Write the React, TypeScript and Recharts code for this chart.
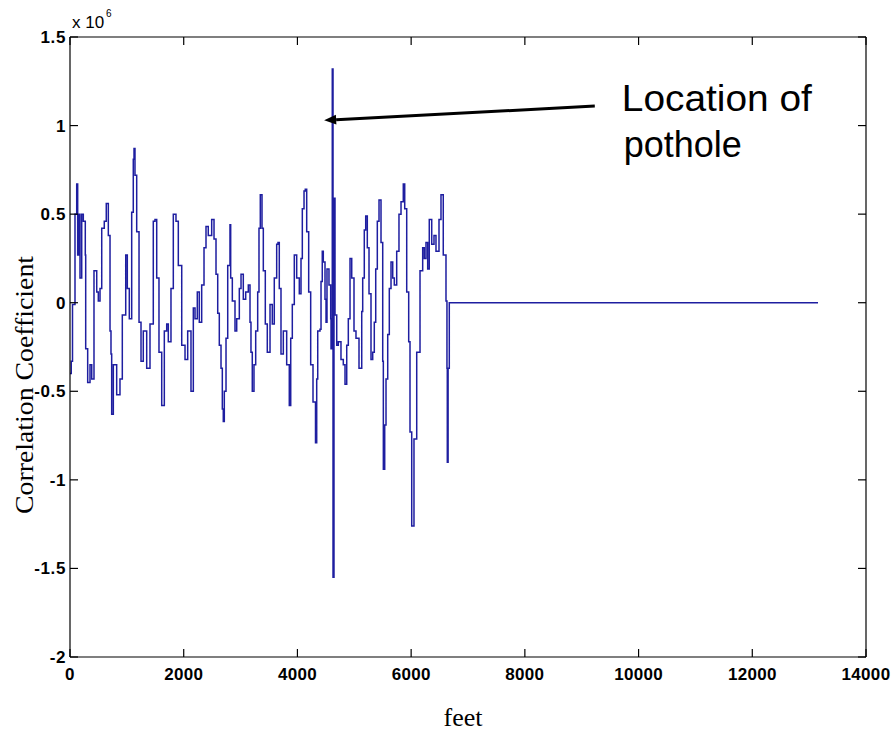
import React from "react";
import { LineChart, Line, XAxis, YAxis, ReferenceLine } from "recharts";

// distance along the road (feet)
const feet = [
  0, 22, 44, 88, 118, 135, 158, 176, 206, 234, 269, 276, 311, 352, 382, 422, 470, 498, 528, 558,
  603, 638, 674, 704, 721, 733, 762, 821, 879, 920, 980, 1008, 1043, 1085, 1113, 1126, 1143, 1173, 1214, 1249,
  1289, 1349, 1407, 1465, 1495, 1525, 1565, 1613, 1659, 1701, 1729, 1776, 1817, 1864, 1905, 1965, 2023, 2070, 2128, 2169,
  2199, 2239, 2274, 2316, 2357, 2392, 2432, 2492, 2533, 2568, 2598, 2626, 2656, 2679, 2696, 2714, 2744, 2774, 2814, 2826,
  2855, 2902, 2932, 2978, 3008, 3048, 3090, 3136, 3166, 3183, 3206, 3236, 3266, 3301, 3324, 3347, 3377, 3400, 3435, 3470,
  3518, 3558, 3593, 3635, 3658, 3681, 3711, 3752, 3811, 3857, 3882, 3910, 3945, 3987, 4033, 4063, 4086, 4116, 4138, 4163,
  4198, 4233, 4274, 4318, 4339, 4357, 4397, 4415, 4437, 4455, 4485, 4503, 4520, 4555, 4585, 4591, 4613, 4626, 4643, 4661,
  4691, 4719, 4766, 4807, 4837, 4867, 4895, 4925, 4955, 4995, 5030, 5083, 5131, 5148, 5176, 5201, 5229, 5259, 5294, 5324,
  5352, 5377, 5405, 5435, 5470, 5500, 5511, 5535, 5558, 5588, 5616, 5646, 5676, 5704, 5746, 5786, 5822, 5862, 5887, 5922,
  5957, 5980, 6010, 6050, 6098, 6156, 6203, 6231, 6261, 6291, 6319, 6362, 6402, 6437, 6490, 6525, 6565, 6613, 6630, 6636,
  6650, 6671, 13156,
];

// correlation coefficient, in units of 10^6
const coeff = [
  -0.4, -0.33, -0.01, 0.5, 0.67, 0.27, 0.5, 0.14, 0.5, 0.46, 0.27, -0.26, -0.45, -0.35, -0.43, 0.18, 0.06, 0.01, 0.08, 0.42,
  0.46, 0.56, 0.38, -0.16, -0.29, -0.63, -0.35, -0.52, -0.43, -0.07, 0.27, 0.08, -0.09, 0.51, 0.81, 0.87, 0.72, 0.4, -0.11, -0.33,
  -0.16, -0.37, -0.12, 0.46, 0.47, 0.14, -0.28, -0.58, -0.16, -0.12, -0.22, 0.08, 0.5, 0.46, 0.21, -0.24, -0.32, -0.16, -0.5, -0.03,
  -0.09, 0.06, -0.11, 0.1, 0.31, 0.43, 0.38, 0.47, 0.36, 0.16, -0.06, -0.24, -0.37, -0.6, -0.67, -0.5, -0.2, 0.21, 0.44, 0.14,
  0.01, -0.16, -0.09, 0.08, 0.16, 0.02, 0.06, 0.1, -0.11, -0.28, -0.5, -0.35, -0.16, 0.06, 0.42, 0.61, 0.42, 0.18, -0.12, -0.28,
  -0.01, -0.12, 0.14, 0.33, 0.34, 0.08, -0.29, -0.16, -0.35, -0.58, -0.2, -0.01, 0.27, 0.14, 0.05, 0.25, 0.53, 0.63, 0.64, 0.4,
  0.06, -0.35, -0.56, -0.79, -0.43, -0.16, -0.15, 0.12, 0.29, 0.23, 0.02, -0.11, 0.19, 0.1, -0.09, -0.26, 1.32, -1.55, 0.59, -0.07,
  -0.24, -0.22, -0.32, -0.35, -0.46, -0.24, -0.09, 0.25, 0.14, -0.16, -0.2, -0.37, -0.05, 0.14, 0.41, 0.49, 0.31, 0.05, -0.32, -0.28,
  -0.11, 0.19, 0.46, 0.58, 0.34, -0.33, -0.94, -0.69, -0.43, -0.18, 0.08, 0.23, 0.14, 0.1, 0.29, 0.5, 0.57, 0.67, 0.53, 0.06,
  -0.22, -0.73, -1.26, -0.77, -0.28, 0.18, 0.31, 0.25, 0.34, 0.19, 0.47, 0.33, 0.38, 0.29, 0.47, 0.61, 0.27, 0.01, -0.37, -0.9,
  -0.37, 0, 0,
];

const xTicks = [0, 2000, 4000, 6000, 8000, 10000, 12000, 14000];
const yTicks = [-2, -1.5, -1, -0.5, 0, 0.5, 1, 1.5];

// arrow pointing at the pothole spike: [tip, tail]
const arrow = [
  { x: 4470, y: 1.03 },
  { x: 9230, y: 1.11 },
];

const data = feet.map((f, i) => ({ feet: f, coeff: coeff[i] }));

const W = 883;
const H = 724;
const PLOT_TOP = 29;
const PLOT_RIGHT = 858;
const TICK = 8;
const SANS = "Liberation Sans, Arial, sans-serif";
const SERIF = "Liberation Serif, Times New Roman, serif";

const XTick = (props: any) => {
  const { x, y, payload } = props;
  return (
    <g>
      <line x1={x} y1={y} x2={x} y2={y - TICK} stroke="#000" strokeWidth={1.2} />
      <line x1={x} y1={PLOT_TOP} x2={x} y2={PLOT_TOP + TICK} stroke="#000" strokeWidth={1.2} />
      <text x={x} y={y + 23} textAnchor="middle" fontFamily={SANS} fontWeight="bold" fontSize={17} letterSpacing={0.3} fill="#000">
        {payload.value}
      </text>
    </g>
  );
};

const YTick = (props: any) => {
  const { x, y, payload } = props;
  return (
    <g>
      <line x1={x} y1={y} x2={x + TICK} y2={y} stroke="#000" strokeWidth={1.2} />
      <line x1={PLOT_RIGHT - TICK} y1={y} x2={PLOT_RIGHT} y2={y} stroke="#000" strokeWidth={1.2} />
      <text x={x - 4} y={y + 6} textAnchor="end" fontFamily={SANS} fontWeight="bold" fontSize={17} letterSpacing={0.6} fill="#000">
        {payload.value}
      </text>
    </g>
  );
};

const ArrowShape = (props: any) => {
  const { x1, y1, x2, y2 } = props;
  const ang = Math.atan2(y1 - y2, x1 - x2);
  const len = 12;
  const half = 5;
  const bx = x1 - len * Math.cos(ang);
  const by = y1 - len * Math.sin(ang);
  const px = -Math.sin(ang) * half;
  const py = Math.cos(ang) * half;
  return (
    <g>
      <line x1={bx} y1={by} x2={x2} y2={y2} stroke="#000" strokeWidth={3} />
      <polygon points={`${x1},${y1} ${bx + px},${by + py} ${bx - px},${by - py}`} fill="#000" />
      <text x={x2 + 27} y={y2 + 5} fontFamily={SANS} fontSize={36} textLength={190} lengthAdjust="spacingAndGlyphs" fill="#000">
        Location of
      </text>
      <text x={x2 + 29} y={y2 + 51} fontFamily={SANS} fontSize={36} fill="#000">
        pothole
      </text>
    </g>
  );
};

export default function App() {
  return (
    <div style={{ position: "absolute", left: 8, top: 8, width: W, height: H }}>
      <style>{`.recharts-surface, .recharts-wrapper { overflow: visible !important; }`}</style>
      <LineChart width={W} height={H} data={data} margin={{ top: PLOT_TOP, right: W - PLOT_RIGHT, left: 0, bottom: 0 }}>
        <XAxis
          dataKey="feet"
          type="number"
          domain={[0, 14000]}
          ticks={xTicks}
          interval={0}
          height={H - 649}
          tickSize={0}
          tickMargin={0}
          tickLine={false}
          axisLine={{ stroke: "#000", strokeWidth: 1.2 }}
          tick={<XTick />}
        />
        <YAxis
          type="number"
          domain={[-2, 1.5]}
          ticks={yTicks}
          interval={0}
          width={62}
          tickSize={0}
          tickMargin={0}
          tickLine={false}
          axisLine={{ stroke: "#000", strokeWidth: 1.2 }}
          tick={<YTick />}
        />
        <ReferenceLine y={1.5} stroke="#000" strokeWidth={1.2} />
        <ReferenceLine x={14000} stroke="#000" strokeWidth={1.2} />
        <Line
          type="stepAfter"
          dataKey="coeff"
          stroke="#1e1ea0"
          strokeWidth={1.5}
          dot={false}
          isAnimationActive={false}
        />
        <ReferenceLine segment={arrow} ifOverflow="visible" shape={<ArrowShape />} />
        <text x={64} y={20} fontFamily={SANS} fontSize={17} fill="#000">
          x 10
        </text>
        <text x={98} y={9} fontFamily={SANS} fontSize={10} fill="#000">
          6
        </text>
        <text
          x={25}
          y={377}
          transform="rotate(-90 25 377)"
          textAnchor="middle"
          fontFamily={SERIF}
          fontSize={26}
          textLength={258}
          lengthAdjust="spacingAndGlyphs"
          fill="#000"
        >
          Correlation Coefficient
        </text>
        <text x={455} y={718} textAnchor="middle" fontFamily={SERIF} fontSize={26} fill="#000">
          feet
        </text>
      </LineChart>
    </div>
  );
}
